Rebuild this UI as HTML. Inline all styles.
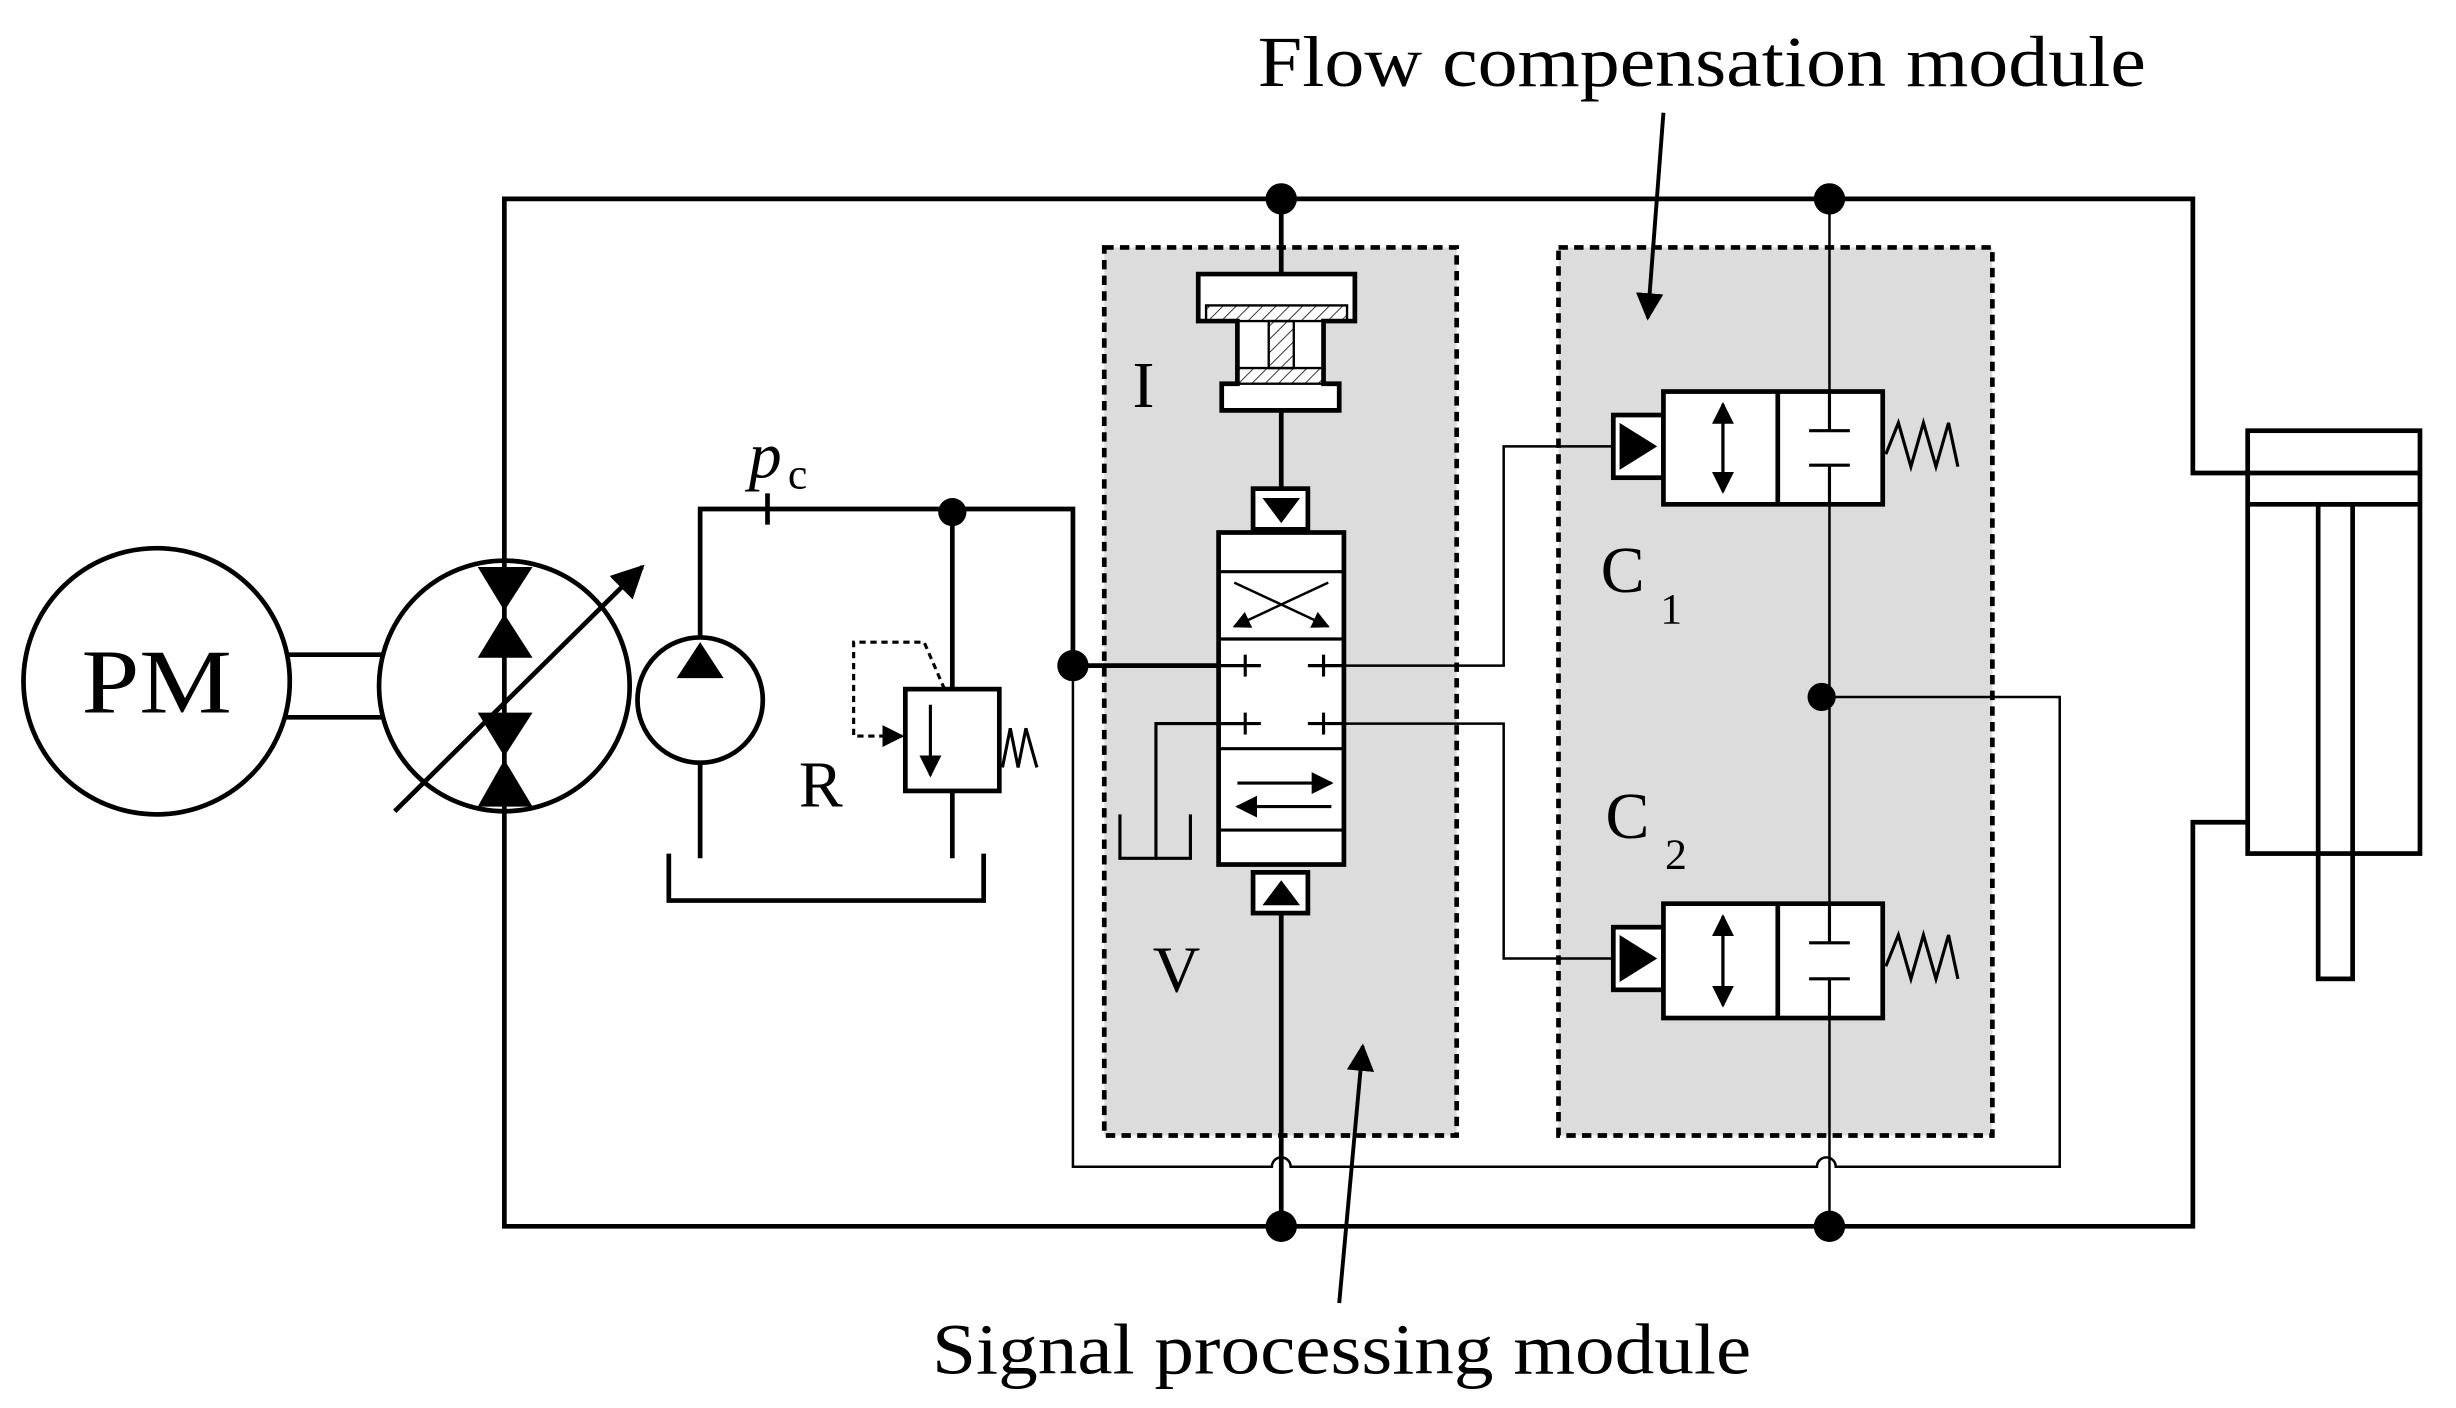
<!DOCTYPE html>
<html><head><meta charset="utf-8"><style>html,body{margin:0;padding:0;background:#fff}svg{display:block}</style></head>
<body>
<svg width="2456" height="1408" viewBox="0 0 1568 899" preserveAspectRatio="none" xmlns="http://www.w3.org/2000/svg" font-family="Liberation Serif, serif">
<defs>
<marker id="ah" viewBox="0 0 10 10" refX="9" refY="5" markerWidth="7" markerHeight="7" orient="auto"><path d="M0,0 L10,5 L0,10 z" fill="#000"/></marker>
<pattern id="hatch" width="6" height="6" patternUnits="userSpaceOnUse" patternTransform="rotate(45)"><line x1="0" y1="0" x2="0" y2="6" stroke="#000" stroke-width="1"/></pattern>
</defs>
<g fill="none" stroke="#000" stroke-width="3">
<rect x="705" y="158" width="225" height="567" fill="#dcdcdc" stroke-dasharray="6,4"/>
<rect x="995" y="158" width="277" height="567" fill="#dcdcdc" stroke-dasharray="6,4"/>
<circle cx="100" cy="435" r="85" fill="#fff"/>
<line x1="183" y1="418" x2="245" y2="418"/><line x1="183" y1="458" x2="245" y2="458"/>
<circle cx="322" cy="438" r="80" fill="#fff"/>
<line x1="322" y1="362" x2="322" y2="515"/>
<line x1="252" y1="518" x2="410" y2="362" marker-end="url(#ah)"/>
<polyline points="322,362 322,127 1400,127 1400,302 1435,302"/>
<polyline points="322,515 322,783 1400,783 1400,525 1435,525"/>
<rect x="1435" y="275" width="110" height="270"/>
<line x1="1435" y1="302" x2="1545" y2="302"/><line x1="1435" y1="322" x2="1545" y2="322"/>
<rect x="1480" y="322" width="22" height="303"/>
<circle cx="447" cy="447" r="40"/>
<polyline points="447,407 447,325 685,325 685,425"/>
<line x1="490" y1="315" x2="490" y2="335"/>
<line x1="447" y1="487" x2="447" y2="548"/>
<polyline points="427,545 427,575 628,575 628,545"/>
<line x1="608" y1="325" x2="608" y2="440"/>
<rect x="578" y="440" width="60" height="65"/>
<line x1="608" y1="505" x2="608" y2="548"/>
<line x1="594" y1="450" x2="594" y2="495" stroke-width="2" marker-end="url(#ah)"/>
<polyline points="640,490 645,465 650,490 655,465 662,490" stroke-width="2"/>
<polyline points="603,440 590,410 545,410 545,470 576,470" stroke-width="2" stroke-dasharray="4,3" marker-end="url(#ah)"/>
<path d="M685,425 L685,745 L812,745 a6,6 0 0 1 12,0 L1160,745 a6,6 0 0 1 12,0 L1315,745 L1315,445 L1163,445" stroke-width="1.6"/>
<line x1="685" y1="425" x2="778" y2="425"/>
<line x1="818" y1="127" x2="818" y2="175"/>
<path d="M765,175 H865 V205 H845 V245 H855 V262 H780 V245 H790 V205 H765 Z" fill="#fff"/>
<rect x="770" y="195" width="90" height="10" fill="url(#hatch)" stroke-width="1.5"/>
<rect x="790" y="235" width="55" height="10" fill="url(#hatch)" stroke-width="1.5"/>
<rect x="810" y="205" width="16" height="30" fill="url(#hatch)" stroke-width="1.5"/>
<line x1="818" y1="262" x2="818" y2="312"/>
<rect x="800" y="312" width="35" height="26" fill="#fff"/>
<polygon points="806,318 830,318 818,334" fill="#000" stroke="none"/>
<rect x="778" y="340" width="80" height="212" fill="#fff"/>
<line x1="778" y1="365" x2="858" y2="365" stroke-width="2"/>
<line x1="778" y1="408" x2="858" y2="408" stroke-width="2"/>
<line x1="778" y1="478" x2="858" y2="478" stroke-width="2"/>
<line x1="778" y1="530" x2="858" y2="530" stroke-width="2"/>
<line x1="788" y1="372" x2="848" y2="400" stroke-width="1.6" marker-end="url(#ah)"/>
<line x1="848" y1="372" x2="788" y2="400" stroke-width="1.6" marker-end="url(#ah)"/>
<g stroke-width="2">
<line x1="778" y1="425" x2="805" y2="425"/><line x1="795" y1="418" x2="795" y2="432"/>
<line x1="858" y1="425" x2="835" y2="425"/><line x1="845" y1="418" x2="845" y2="432"/>
<line x1="778" y1="462" x2="805" y2="462"/><line x1="795" y1="455" x2="795" y2="469"/>
<line x1="858" y1="462" x2="835" y2="462"/><line x1="845" y1="455" x2="845" y2="469"/>
<line x1="790" y1="500" x2="850" y2="500" marker-end="url(#ah)"/>
<line x1="850" y1="515" x2="790" y2="515" marker-end="url(#ah)"/>
</g>
<polyline points="795,462 738,462 738,548 715,548 715,520" stroke-width="2"/>
<polyline points="738,548 760,548 760,520" stroke-width="2"/>
<rect x="800" y="557" width="35" height="26" fill="#fff"/>
<polygon points="806,578 830,578 818,562" fill="#000" stroke="none"/>
<line x1="818" y1="583" x2="818" y2="783"/>
<polyline points="858,425 960,425 960,285 1032,285" stroke-width="1.6"/>
<polyline points="858,462 960,462 960,612 1032,612" stroke-width="1.6"/>
<line x1="1168" y1="127" x2="1168" y2="783" stroke-width="1.6"/>
<rect x="1030" y="265" width="32" height="40" fill="#fff"/>
<polygon points="1034,270 1058,285 1034,300" fill="#000" stroke="none"/>
<rect x="1062" y="250" width="140" height="72" fill="#fff"/>
<line x1="1135" y1="250" x2="1135" y2="322"/>
<line x1="1100" y1="258" x2="1100" y2="314" stroke-width="2" marker-end="url(#ah)"/>
<line x1="1100" y1="300" x2="1100" y2="258" stroke-width="2" marker-end="url(#ah)"/>
<g stroke-width="2"><line x1="1168" y1="250" x2="1168" y2="275"/><line x1="1155" y1="275" x2="1181" y2="275"/><line x1="1168" y1="322" x2="1168" y2="297"/><line x1="1155" y1="297" x2="1181" y2="297"/></g>
<polyline points="1204,290 1212,270 1220,298 1228,270 1236,298 1244,270 1250,298" stroke-width="2"/>
<rect x="1030" y="592" width="32" height="40" fill="#fff"/>
<polygon points="1034,597 1058,612 1034,627" fill="#000" stroke="none"/>
<rect x="1062" y="577" width="140" height="73" fill="#fff"/>
<line x1="1135" y1="577" x2="1135" y2="650"/>
<line x1="1100" y1="585" x2="1100" y2="642" stroke-width="2" marker-end="url(#ah)"/>
<line x1="1100" y1="630" x2="1100" y2="585" stroke-width="2" marker-end="url(#ah)"/>
<g stroke-width="2"><line x1="1168" y1="577" x2="1168" y2="602"/><line x1="1155" y1="602" x2="1181" y2="602"/><line x1="1168" y1="650" x2="1168" y2="625"/><line x1="1155" y1="625" x2="1181" y2="625"/></g>
<polyline points="1204,617 1212,597 1220,625 1228,597 1236,625 1244,597 1250,625" stroke-width="2"/>
<line x1="1062" y1="72" x2="1052" y2="203" stroke-width="2.5" marker-end="url(#ah)"/>
<line x1="855" y1="832" x2="870" y2="668" stroke-width="2.5" marker-end="url(#ah)"/>
</g>
<g fill="#000">
<polygon points="305,362 340,362 322,390"/><polygon points="322,392 305,420 340,420"/>
<polygon points="305,455 340,455 322,483"/><polygon points="322,485 305,515 340,515"/>
<polygon points="447,410 432,433 462,433"/>
<circle cx="818" cy="127" r="10"/><circle cx="1168" cy="127" r="10"/>
<circle cx="818" cy="783" r="10"/><circle cx="1168" cy="783" r="10"/>
<circle cx="608" cy="327" r="9"/><circle cx="685" cy="425" r="10"/><circle cx="1163" cy="445" r="9"/>
</g>
<g fill="#000" font-size="42">
<text x="52" y="455" font-size="58" textLength="96" lengthAdjust="spacingAndGlyphs">PM</text>
<text x="803" y="55" font-size="46" textLength="567" lengthAdjust="spacingAndGlyphs">Flow compensation module</text>
<text x="595" y="877" font-size="46" textLength="523" lengthAdjust="spacingAndGlyphs">Signal processing module</text>
<text x="723" y="260">I</text>
<text x="736" y="633">V</text>
<text x="510" y="515">R</text>
<text x="1022" y="378">C</text><text x="1060" y="398" font-size="28">1</text>
<text x="1025" y="535">C</text><text x="1063" y="555" font-size="28">2</text>
<text x="478" y="305" font-style="italic">p</text><text x="503" y="312" font-size="28">c</text>
</g>
</svg>
</body></html>
